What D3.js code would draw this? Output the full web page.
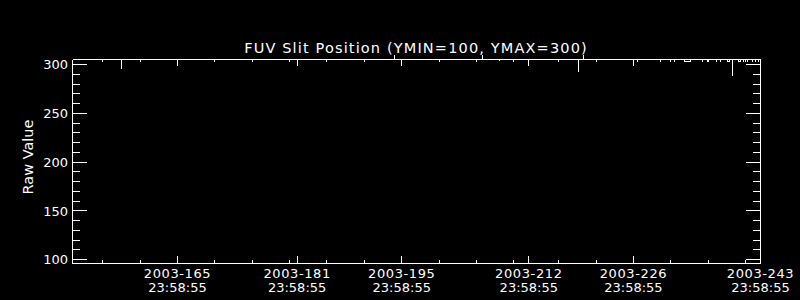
<!DOCTYPE html>
<html>
<head>
<meta charset="utf-8">
<script src="https://cdn.jsdelivr.net/npm/d3@7"></script>
<style>
  html, body { margin: 0; padding: 0; background: #000; }
  svg { display: block; }
  text { fill: #fff; font-family: "DejaVu Sans", sans-serif; }
</style>
</head>
<body>
<div id="chart"></div>
<script>
// FUV slit position, raw value vs. day of 2003
const majorDays = [165, 181, 195, 212, 226, 243];
const majorTime = '23:58:55';
const minorDays = [155, 160, 165, 170, 175, 180, 185, 190, 195, 200, 205, 210, 216, 221, 226, 231, 236, 241];
const yMajor = [100, 150, 200, 250, 300];
const yMinor = [110, 120, 130, 140, 160, 170, 180, 190, 210, 220, 230, 240, 260, 270, 280, 290];

const slitDays = [
  150.95, 157.49, 157.51, 157.53,
  194.01, 194.03, 194.10,
  205.79, 205.81, 205.83,
  208.06, 208.08, 208.10,
  218.63, 218.65, 218.67,
  219.30, 219.32, 219.36,
  226.52, 226.54, 226.56,
  229.60, 229.62, 229.64,
  231.48, 231.50, 231.52,
  232.80, 232.83, 233.23, 233.64, 233.66,
  235.22, 235.24, 235.26,
  235.89, 235.91, 235.93,
  237.10, 237.12, 237.14,
  237.63, 237.65, 237.67,
  238.57, 238.59, 238.86, 238.88,
  239.24, 239.26, 239.28,
  240.04, 240.06, 240.33, 240.35,
  240.71, 240.73, 240.75,
  241.25, 241.27, 241.29,
  241.92, 241.94, 241.96,
  242.31, 242.33, 242.35,
  242.71, 242.73, 242.75,
  243.00
];
const slitValues = [
  305.4, 305.4, 296.0, 305.4,
  305.4, 309.5, 305.4,
  305.4, 310.0, 305.4,
  305.4, 303.5, 305.4,
  305.4, 293.0, 305.4,
  305.4, 309.5, 305.4,
  305.4, 303.0, 305.4,
  305.4, 303.0, 305.4,
  305.4, 303.0, 305.4,
  305.4, 303.3, 303.3, 303.3, 305.4,
  305.4, 303.0, 305.4,
  305.4, 303.0, 305.4,
  305.4, 303.0, 305.4,
  305.4, 303.0, 305.4,
  305.4, 303.0, 303.0, 305.4,
  305.4, 288.0, 305.4,
  305.4, 303.0, 303.0, 305.4,
  305.4, 303.0, 305.4,
  305.4, 303.0, 305.4,
  305.4, 303.0, 305.4,
  305.4, 303.0, 305.4,
  305.4, 303.0, 305.4,
  305.4
];

const width = 800;
const height = 300;
// pixel rows/columns of the plot frame (d3 axes add their own half-pixel offset)
const plotLeft = 72, plotRight = 760, plotTop = 59, plotBottom = 263;

const x = d3.scaleLinear().domain([150.95, 243]).range([plotLeft, plotRight]);
const y = d3.scaleLinear().domain([95.9, 305.4]).range([plotBottom, plotTop]);

const svg = d3.select('#chart').append('svg')
  .attr('width', width)
  .attr('height', height)
  .style('background', '#000');

const styleAxis = g => {
  g.selectAll('path, line').attr('stroke', '#fff').attr('shape-rendering', 'crispEdges');
  g.attr('font-family', null).attr('font-size', null);
};

// y axes (left with labels, right ticks only)
svg.append('g')
  .attr('transform', `translate(${plotLeft},0)`)
  .call(d3.axisLeft(y).tickValues(yMinor).tickSize(-8).tickSizeOuter(0).tickFormat(''))
  .call(styleAxis);
svg.append('g')
  .attr('transform', `translate(${plotLeft},0)`)
  .call(d3.axisLeft(y).tickValues(yMajor).tickSize(-15).tickSizeOuter(0).tickPadding(4))
  .call(styleAxis)
  .call(g => g.selectAll('.tick text').style('font-size', '13px').attr('dy', '0.36em'));
svg.append('g')
  .attr('transform', `translate(${plotRight},0)`)
  .call(d3.axisRight(y).tickValues(yMinor).tickSize(-7).tickSizeOuter(0).tickFormat(''))
  .call(styleAxis);
svg.append('g')
  .attr('transform', `translate(${plotRight},0)`)
  .call(d3.axisRight(y).tickValues(yMajor).tickSize(-14).tickSizeOuter(0).tickFormat(''))
  .call(styleAxis);

// x axes (bottom with two-line labels, top ticks only)
svg.append('g')
  .attr('transform', `translate(0,${plotBottom})`)
  .call(d3.axisBottom(x).tickValues(minorDays).tickSize(-3).tickSizeOuter(0).tickFormat(''))
  .call(styleAxis);
svg.append('g')
  .attr('transform', `translate(0,${plotBottom})`)
  .call(d3.axisBottom(x).tickValues(majorDays).tickSize(-7).tickSizeOuter(0).tickPadding(6))
  .call(styleAxis)
  .call(g => g.selectAll('.tick text')
    .style('font-size', '13px')
    .attr('dy', null)
    .text(null)
    .each(function (d) {
      const t = d3.select(this);
      t.append('tspan').attr('x', 0).attr('y', 15).style('letter-spacing', '0.6px').text(`2003-${d}`);
      t.append('tspan').attr('x', 0).attr('y', 29).text(majorTime);
    }));
svg.append('g')
  .attr('transform', `translate(0,${plotTop})`)
  .call(d3.axisTop(x).tickValues(minorDays).tickSize(-3).tickSizeOuter(0).tickFormat(''))
  .call(styleAxis);
svg.append('g')
  .attr('transform', `translate(0,${plotTop})`)
  .call(d3.axisTop(x).tickValues(majorDays).tickSize(-7).tickSizeOuter(0).tickFormat(''))
  .call(styleAxis);

// data line
const points = slitDays.map((d, i) => [d, slitValues[i]]);
svg.append('path')
  .datum(points)
  .attr('transform', 'translate(0.5,0.5)')
  .attr('fill', 'none')
  .attr('stroke', '#fff')
  .attr('stroke-width', 1)
  .attr('shape-rendering', 'crispEdges')
  .attr('d', d3.line().x(d => x(d[0])).y(d => y(d[1])));

// titles
svg.append('text')
  .attr('x', (plotLeft + plotRight) / 2)
  .attr('y', 52.5)
  .attr('text-anchor', 'middle')
  .style('font-size', '14.5px')
  .style('letter-spacing', '1.15px')
  .text('FUV Slit Position (YMIN=100, YMAX=300)');

svg.append('text')
  .attr('transform', 'translate(32.5,157) rotate(-90)')
  .attr('text-anchor', 'middle')
  .style('font-size', '14.5px')
  .text('Raw Value');
</script>
</body>
</html>
